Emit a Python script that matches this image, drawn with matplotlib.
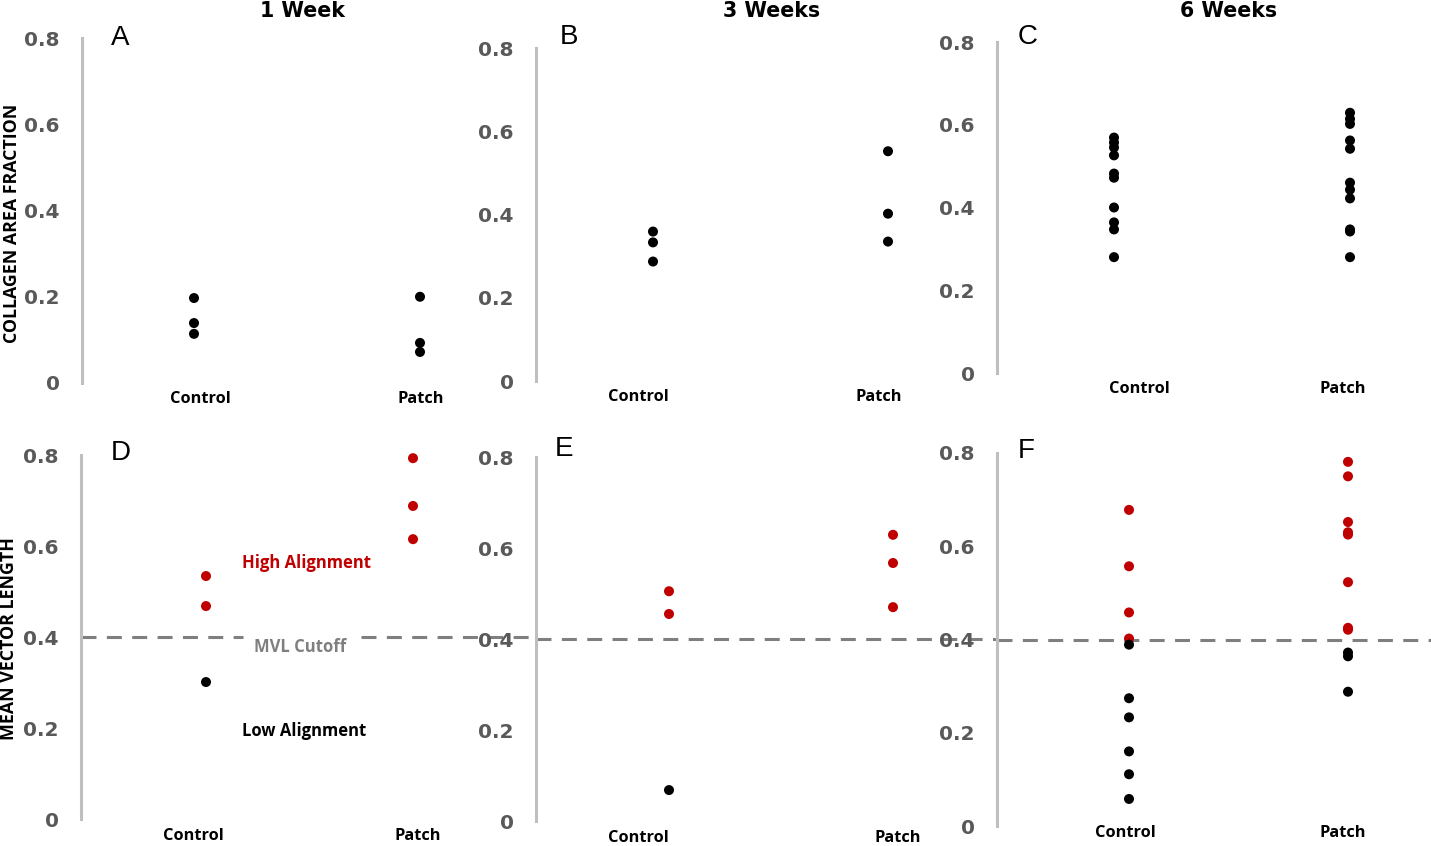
import matplotlib
matplotlib.use("Agg")
import matplotlib.pyplot as plt
import matplotlib.transforms as mtransforms

# ---------------- data ----------------
categories = ["Control", "Patch"]
time_titles = ["1 Week", "3 Weeks", "6 Weeks"]
panel_letters = ["A", "B", "C", "D", "E", "F"]
ylabel_top = "COLLAGEN AREA FRACTION"
ylabel_bottom = "MEAN VECTOR LENGTH"
yticks = [0, 0.2, 0.4, 0.6, 0.8]
ytick_labels = ["0", "0.2", "0.4", "0.6", "0.8"]
MVL_CUTOFF = 0.4

# Collagen area fraction
caf_1wk_control = [0.197, 0.139, 0.114]
caf_1wk_patch = [0.200, 0.093, 0.072]
caf_3wk_control = [0.359, 0.333, 0.287]
caf_3wk_patch = [0.552, 0.402, 0.335]
caf_6wk_control = [0.569, 0.557, 0.545, 0.526, 0.482, 0.472, 0.400, 0.364, 0.347, 0.280]
caf_6wk_patch = [0.629, 0.614, 0.602, 0.562, 0.542, 0.460, 0.443, 0.422, 0.347, 0.342, 0.280]

# Mean vector length
mvl_1wk_control = [0.534, 0.468, 0.301]
mvl_1wk_patch = [0.793, 0.688, 0.615]
mvl_3wk_control = [0.505, 0.455, 0.068]
mvl_3wk_patch = [0.629, 0.567, 0.470]
mvl_6wk_control = [0.678, 0.557, 0.458, 0.402, 0.389, 0.274, 0.233, 0.160, 0.111, 0.058]
mvl_6wk_patch = [0.781, 0.750, 0.652, 0.630, 0.625, 0.523, 0.425, 0.421, 0.372, 0.364, 0.288]

# ---------------- layout (pixels) ----------------
W, H = 1431, 846
DPI = 100
fig = plt.figure(figsize=(W / DPI, H / DPI), dpi=DPI)
fig.patch.set_facecolor("white")

layout = [
    dict(sx=82, y0=383, y8=38, dc=194, dp=420, lc=200, lp=421, ly=399),
    dict(sx=536, y0=381, y8=48, dc=653, dp=888, lc=638, lp=879, ly=397),
    dict(sx=997, y0=373, y8=42, dc=1114, dp=1350, lc=1139, lp=1343, ly=389),
    dict(sx=81, y0=819, y8=455, dc=206, dp=413, lc=193, lp=418, ly=836,
         segs=[(81, 243), (361, 536)]),
    dict(sx=536, y0=821, y8=457, dc=669, dp=893, lc=638, lp=898, ly=838,
         segs=[(536, 997)]),
    dict(sx=997, y0=826, y8=453, dc=1129, dp=1348, lc=1125, lp=1343, ly=833,
         segs=[(997, 1431)]),
]
letter_pos = [(120, 38), (569, 37), (1028, 37), (121, 453), (564, 449), (1026, 451)]
title_pos = [(303, 11), (772, 11), (1229, 11)]

panel_data = [
    (caf_1wk_control, caf_1wk_patch),
    (caf_3wk_control, caf_3wk_patch),
    (caf_6wk_control, caf_6wk_patch),
    (mvl_1wk_control, mvl_1wk_patch),
    (mvl_3wk_control, mvl_3wk_patch),
    (mvl_6wk_control, mvl_6wk_patch),
]

RED = "#C00000"
BLACK = "#000000"
TICK_COLOR = "#595959"
SPINE_COLOR = "#BFBFBF"
DASH_COLOR = "#7F7F7F"
AX_W = 400
LBL_FONT = "Open Sans"

axes = []
for i, (lay, (ctrl, patch)) in enumerate(zip(layout, panel_data)):
    left = lay["sx"] / W
    bottom = 1 - lay["y0"] / H
    height = (lay["y0"] - lay["y8"]) / H
    ax = fig.add_axes([left, bottom, AX_W / W, height])
    axes.append(ax)
    ax.set_facecolor("none")
    span = lay["dp"] - lay["dc"]
    xmin = -(lay["dc"] - lay["sx"]) / span
    ax.set_xlim(xmin, xmin + AX_W / span)
    ax.set_ylim(0, 0.8)

    bottom_row = i >= 3
    for xi, vals in enumerate([ctrl, patch]):
        cols = [RED if (bottom_row and v > MVL_CUTOFF) else BLACK for v in vals]
        ax.scatter([xi] * len(vals), vals, s=52, c=cols, edgecolors="none",
                   zorder=3, clip_on=False)

    for s in ["top", "right", "bottom"]:
        ax.spines[s].set_visible(False)
    ax.spines["left"].set_color(SPINE_COLOR)
    ax.spines["left"].set_linewidth(2.2)
    ax.set_xticks([])
    ax.set_yticks(yticks)
    ax.set_yticklabels(ytick_labels)
    ax.tick_params(axis="y", length=0, pad=16, labelcolor=TICK_COLOR)
    for lbl in ax.get_yticklabels():
        lbl.set_fontfamily("DejaVu Sans")
        lbl.set_fontweight("bold")
        lbl.set_fontsize(14.5)

    for xi, (cat, lx) in enumerate(zip(categories, [lay["lc"], lay["lp"]])):
        xd = (lx - lay["dc"]) / span
        ax.annotate(cat, xy=(xd, 0), xycoords=("data", "axes fraction"),
                    xytext=(0, -(lay["ly"] - lay["y0"]) * 72 / DPI),
                    textcoords="offset points", ha="center", va="center",
                    fontfamily=LBL_FONT, fontweight="bold", fontsize=11.8,
                    color="black", annotation_clip=False)

    if bottom_row:
        trans = mtransforms.blended_transform_factory(ax.transAxes, ax.transData)
        for (x0p, x1p) in lay["segs"]:
            ax.plot([(x0p - lay["sx"]) / AX_W, (x1p - lay["sx"]) / AX_W],
                    [MVL_CUTOFF, MVL_CUTOFF], transform=trans,
                    color=DASH_COLOR, lw=2.2, dashes=(4.9, 3.4),
                    dash_capstyle="butt", clip_on=False, zorder=2)

    lx, ly = letter_pos[i]
    fig.text(lx / W, 1 - ly / H, panel_letters[i], ha="center", va="center",
             fontfamily="Liberation Sans", fontsize=20, color="black")

# annotations in panel D
axD = axes[3]
layD = layout[3]
spanD = layD["dp"] - layD["dc"]
def d_xy(px, py):
    return ((px - layD["dc"]) / spanD,
            (layD["y0"] - py) / (layD["y0"] - layD["y8"]) * 0.8)

axD.text(*d_xy(300, 647), "MVL Cutoff", ha="center", va="center",
         fontfamily=LBL_FONT, fontweight="bold", fontsize=12, color=DASH_COLOR,
         zorder=6, clip_on=False)
axD.text(*d_xy(306, 563), "High Alignment", ha="center", va="center",
         fontfamily=LBL_FONT, fontweight="bold", fontsize=12, color=RED,
         clip_on=False)
axD.text(*d_xy(304, 731), "Low Alignment", ha="center", va="center",
         fontfamily=LBL_FONT, fontweight="bold", fontsize=12, color="black",
         clip_on=False)

for (tx, ty), t in zip(title_pos, time_titles):
    fig.text(tx / W, 1 - ty / H, t, ha="center", va="center",
             fontfamily="DejaVu Sans", fontweight="bold", fontsize=14.8,
             color="black")

fig.text(12 / W, 1 - 223 / H, ylabel_top, rotation=90, ha="center", va="center",
         fontfamily=LBL_FONT, fontweight="bold", fontsize=12.8, color="black")
fig.text(9 / W, 1 - 639 / H, ylabel_bottom, rotation=90, ha="center", va="center",
         fontfamily=LBL_FONT, fontweight="bold", fontsize=12.8, color="black")

fig.savefig("out.png", dpi=DPI, facecolor="white")
